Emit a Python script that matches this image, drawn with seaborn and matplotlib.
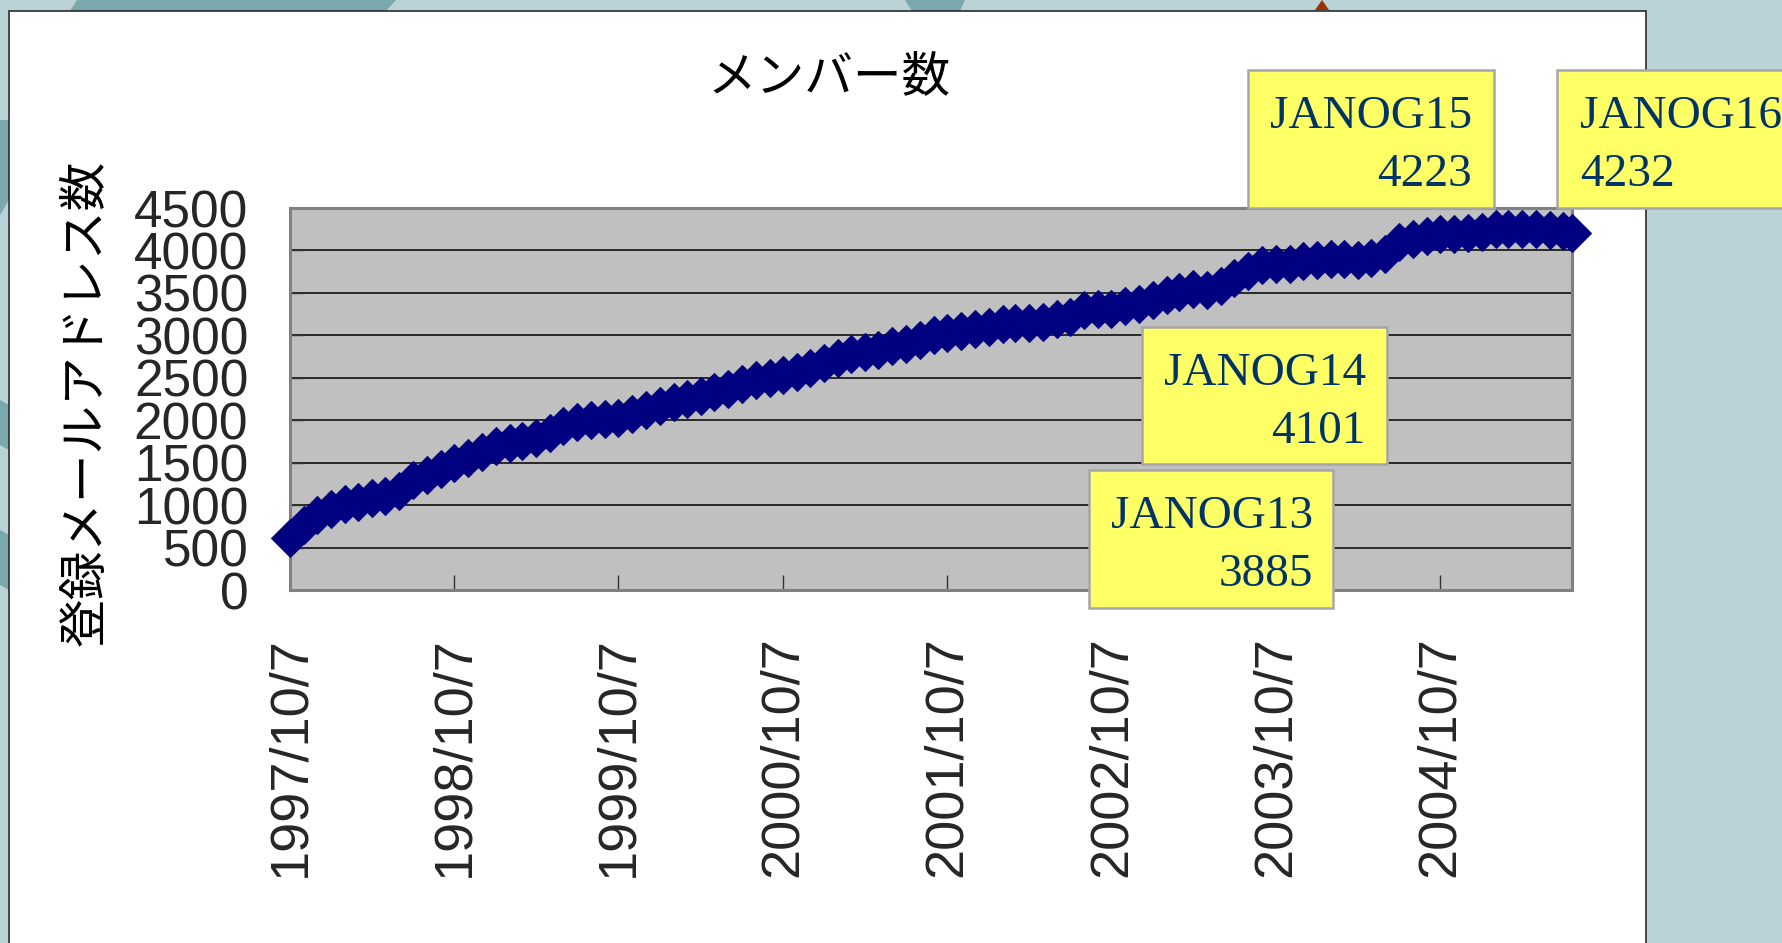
import matplotlib
matplotlib.use("Agg")
import matplotlib.pyplot as plt
from matplotlib.patches import Rectangle, Polygon
import numpy as np
import pandas as pd
import seaborn as sns

# monthly member counts (7th of each month), 1997/10 .. 2005/7
start_date = "1997-10-07"
members = [
    610, 760, 880, 960, 1010, 1040, 1080, 1110, 1170, 1290, 1360, 1420,
    1500, 1560, 1620, 1700, 1730, 1760, 1790, 1850, 1930, 1980, 2000, 2015,
    2030, 2070, 2120, 2170, 2210, 2250, 2290, 2330, 2370, 2430, 2470, 2500,
    2535, 2570, 2610, 2670, 2730, 2780, 2800, 2830, 2870, 2900, 2950, 3000,
    3030, 3050, 3070, 3100, 3130, 3140, 3150, 3160, 3190, 3220, 3300, 3310,
    3310, 3340, 3370, 3420, 3470, 3510, 3540, 3535, 3580, 3680, 3760, 3830,
    3835, 3845, 3870, 3885, 3900, 3900, 3890, 3910, 3960, 4101, 4130, 4170,
    4190, 4195, 4200, 4223, 4250, 4250, 4250, 4250, 4240, 4232,
]
last_date = "2005-07-27"
last_value = 4210

tick_labels = ["1997/10/7", "1998/10/7", "1999/10/7", "2000/10/7",
               "2001/10/7", "2002/10/7", "2003/10/7", "2004/10/7"]
y_ticks = [0, 500, 1000, 1500, 2000, 2500, 3000, 3500, 4000, 4500]

note_names = ["JANOG13", "JANOG14", "JANOG15", "JANOG16"]
note_values = [3885, 4101, 4223, 4232]

title = "メンバー数"
y_label = "登録メールアドレス数"

dates = list(pd.date_range(start_date, periods=len(members),
                           freq=pd.DateOffset(months=1)))
dates.append(pd.Timestamp(last_date))
df = pd.DataFrame({"date": dates, "members": members + [last_value]})

W, H = 1782, 943


def fx(x):
    return x / W


def fy(y):
    return 1 - y / H


sns.set_style("white")
plt.rcParams["font.family"] = ["Liberation Sans", "DejaVu Sans"]

fig = plt.figure(figsize=(W / 100, H / 100), dpi=100, facecolor="#B9D3D7")

# slide background decorations
dark_teal = "#7AA8AD"
for pts in [
    [(77, 0), (396, 0), (386, 11), (70, 11)],
    [(905, 0), (965, 0), (960, 11), (912, 11)],
    [(0, 120), (9, 120), (9, 200), (0, 215)],
    [(0, 400), (9, 405), (9, 450), (0, 445)],
    [(0, 530), (9, 535), (9, 590), (0, 585)],
]:
    fig.add_artist(Polygon([(fx(x), fy(y)) for x, y in pts], closed=True,
                           transform=fig.transFigure, facecolor=dark_teal,
                           edgecolor="none", zorder=0))
fig.add_artist(Polygon([(fx(1315), fy(10)), (fx(1329), fy(10)), (fx(1322), fy(0))],
                       closed=True, transform=fig.transFigure,
                       facecolor="#993300", edgecolor="none", zorder=0))

# white chart panel
fig.add_artist(Rectangle((fx(9), fy(960)), fx(1646) - fx(9), fy(11) - fy(960),
                         transform=fig.transFigure, facecolor="white",
                         edgecolor="#2b2b2b", linewidth=1.2, zorder=0.5))

ax = fig.add_axes([fx(290), fy(590), fx(1572) - fx(290), (590 - 208) / H])
ax.set_zorder(1)
ax.set_facecolor("#C0C0C0")

sns.lineplot(data=df, x="date", y="members", ax=ax, color="#000080",
             marker="D", markersize=19, markeredgecolor="#000080",
             linewidth=15, estimator=None, clip_on=False, zorder=3)

ax.set_xlim(df["date"].iloc[0], df["date"].iloc[-1])
ax.set_ylim(0, 4500)
ax.set_yticks(y_ticks)
ax.set_yticklabels([str(v) for v in y_ticks], fontsize=37,
                   family=["Liberation Sans Narrow", "Liberation Sans"])
ax.set_xticks(pd.to_datetime(tick_labels))
ax.set_xticklabels(tick_labels, rotation=90, fontsize=39)
ax.set_xlabel("")
ax.set_ylabel("")

ax.yaxis.grid(True, color="black", linewidth=1.1)
ax.xaxis.grid(False)
ax.set_axisbelow(True)
ax.tick_params(axis="y", direction="in", length=9, width=1, color="#333333",
               pad=30, left=True)
ax.tick_params(axis="x", direction="in", length=11, width=1, color="#333333",
               pad=33, bottom=True)
for side in ["left", "right", "top", "bottom"]:
    ax.spines[side].set_visible(True)
    ax.spines[side].set_color("#808080")
    ax.spines[side].set_linewidth(2.2)

fig.text(fx(829), fy(77), title, ha="center", va="center", fontsize=35,
         family=["Noto Sans CJK JP", "DejaVu Sans"], color="black")
fig.text(fx(86), fy(403), y_label, ha="center", va="center", rotation=90,
         fontsize=35, family=["Noto Sans CJK JP", "DejaVu Sans"], color="black")

# callout boxes: (left, top, right, bottom), text anchor x, alignment
boxes = [
    ((1089, 470, 1333, 608), 1313, "right"),
    ((1142, 327, 1387, 464), 1366, "right"),
    ((1248, 70, 1494, 208), 1472, "right"),
    ((1557, 70, 1800, 208), 1580, "left"),
]
for name, value, (box, tx, align) in zip(note_names, note_values, boxes):
    x0, y0, x1, y1 = box
    fig.add_artist(Rectangle((fx(x0), fy(y1)), fx(x1) - fx(x0), fy(y0) - fy(y1),
                             transform=fig.transFigure, facecolor="#FFFF66",
                             edgecolor="#A6A6A6", linewidth=1.8, zorder=5))
    fig.text(fx(tx), fy(y0 + 47), name, ha=align, va="center", fontsize=34,
             family=["Liberation Serif", "DejaVu Serif"], color="#003366",
             zorder=6)
    fig.text(fx(tx), fy(y0 + 105), str(value), ha=align, va="center",
             fontsize=34, family=["Liberation Serif", "DejaVu Serif"],
             color="#003366", zorder=6)

fig.savefig("out.png", dpi=100, facecolor=fig.get_facecolor())
